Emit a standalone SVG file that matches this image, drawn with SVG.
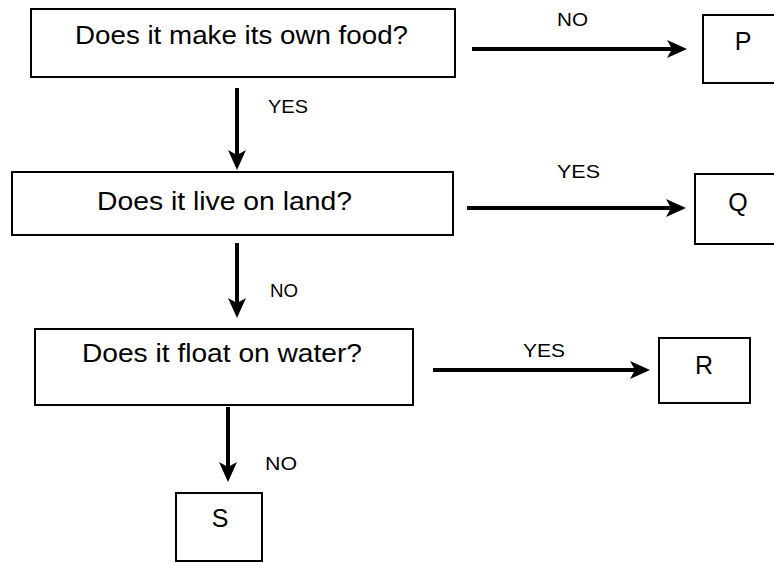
<svg xmlns="http://www.w3.org/2000/svg" width="774" height="563" viewBox="0 0 774 563">
  <style>
    .box { fill: #ffffff; stroke: #000000; stroke-width: 2; }
    .q { font-family: "Liberation Sans", Arial, sans-serif; font-size: 25px; fill: #000000; }
    .lbl { font-family: "Liberation Sans", Arial, sans-serif; font-size: 18px; fill: #000000; }
    .ltr { font-family: "Liberation Sans", Arial, sans-serif; font-size: 25px; fill: #000000; text-anchor: middle; }
    .conn { fill: none; stroke: #000000; stroke-width: 4; marker-end: url(#arrow); }
  </style>
  <defs>
    <marker id="arrow" markerUnits="userSpaceOnUse" markerWidth="20" markerHeight="18" viewBox="0 0 20 18" refX="8" refY="9" orient="auto">
      <path d="M0,0 L20,9 L0,18 L5,9 Z" fill="#000000"/>
    </marker>
  </defs>
  <rect width="774" height="563" fill="#ffffff"/>

  <g id="q1">
    <rect class="box" x="31" y="9" width="424" height="68"/>
    <text class="q" x="75" y="44" textLength="333" lengthAdjust="spacingAndGlyphs">Does it make its own food?</text>
  </g>
  <g id="q2">
    <rect class="box" x="12" y="172" width="441" height="63"/>
    <text class="q" x="97" y="210" textLength="255" lengthAdjust="spacingAndGlyphs">Does it live on land?</text>
  </g>
  <g id="q3">
    <rect class="box" x="35" y="329" width="378" height="76"/>
    <text class="q" x="82" y="362" textLength="280" lengthAdjust="spacingAndGlyphs">Does it float on water?</text>
  </g>
  <g id="P">
    <rect class="box" x="703" y="15" width="80" height="68"/>
    <text class="ltr" x="743" y="50">P</text>
  </g>
  <g id="Q">
    <rect class="box" x="695" y="174" width="90" height="70"/>
    <text class="ltr" x="738" y="211">Q</text>
  </g>
  <g id="R">
    <rect class="box" x="659" y="338" width="91" height="65"/>
    <text class="ltr" x="704" y="374">R</text>
  </g>
  <g id="S">
    <rect class="box" x="176" y="493" width="86" height="68"/>
    <text class="ltr" x="220" y="527">S</text>
  </g>

  <g id="connectors">
    <path class="conn" d="M237,88 V158"/>
    <path class="conn" d="M237,243 V306"/>
    <path class="conn" d="M228,407 V470"/>
    <path class="conn" d="M472,49 H675"/>
    <path class="conn" d="M467,208 H674"/>
    <path class="conn" d="M433,370 H638"/>
    <text class="lbl" x="268" y="113" textLength="40" lengthAdjust="spacingAndGlyphs">YES</text>
    <text class="lbl" x="270" y="297" textLength="28" lengthAdjust="spacingAndGlyphs">NO</text>
    <text class="lbl" x="265" y="470" textLength="32" lengthAdjust="spacingAndGlyphs">NO</text>
    <text class="lbl" x="557" y="26" textLength="31" lengthAdjust="spacingAndGlyphs">NO</text>
    <text class="lbl" x="557" y="178" textLength="43" lengthAdjust="spacingAndGlyphs">YES</text>
    <text class="lbl" x="523" y="357" textLength="42" lengthAdjust="spacingAndGlyphs">YES</text>
  </g>
</svg>
